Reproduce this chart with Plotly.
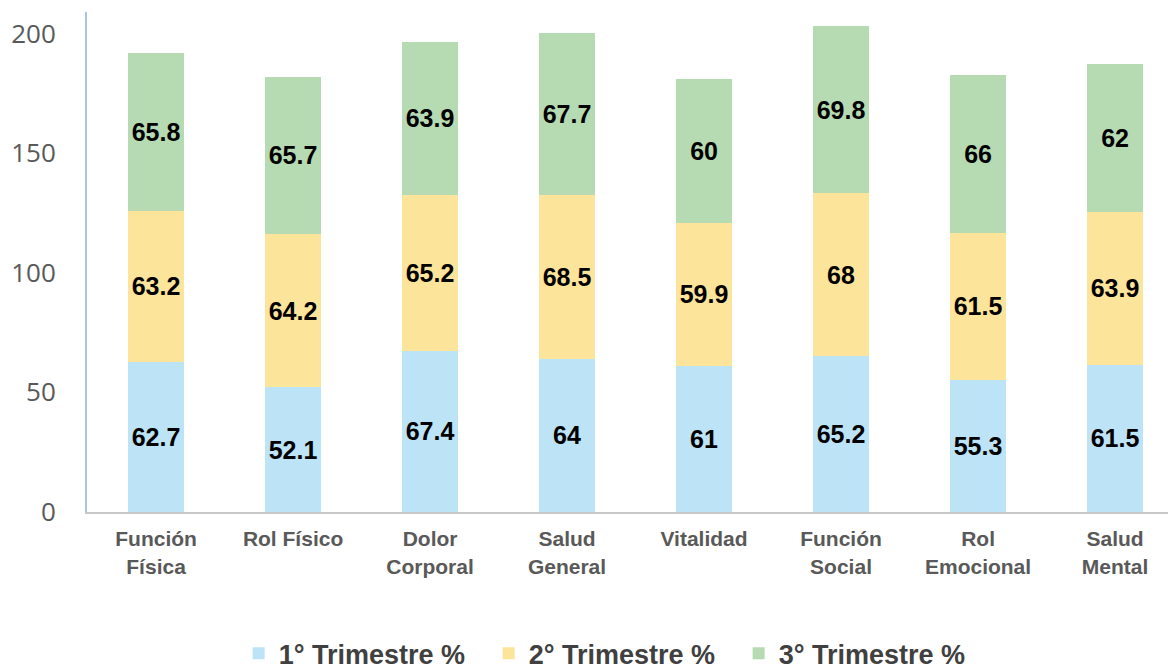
import plotly.graph_objects as go

categories = ["Función<br>Física", "Rol Físico", "Dolor<br>Corporal", "Salud<br>General",
              "Vitalidad", "Función<br>Social", "Rol<br>Emocional", "Salud<br>Mental"]
t1 = [62.7, 52.1, 67.4, 64, 61, 65.2, 55.3, 61.5]
t2 = [63.2, 64.2, 65.2, 68.5, 59.9, 68, 61.5, 63.9]
t3 = [65.8, 65.7, 63.9, 67.7, 60, 69.8, 66, 62]
series_names = ["1° Trimestre %", "2° Trimestre %", "3° Trimestre %"]
colors = ["#BDE3F6", "#FDE49B", "#B6DBB2"]

fig = go.Figure()
for name, vals, col in zip(series_names, [t1, t2, t3], colors):
    fig.add_trace(go.Bar(
        x=list(range(len(categories))), y=vals, name=name,
        marker=dict(color=col, line=dict(width=0)),
        width=0.41,
        text=vals, texttemplate="%{y}", textposition="inside",
        insidetextanchor="middle", textangle=0, constraintext="none",
        textfont=dict(family="Liberation Sans, Arial, sans-serif", size=25,
                      color="#000000", weight="bold"),
    ))

fig.update_layout(
    barmode="stack",
    width=1176, height=668,
    margin=dict(l=79, r=8, t=4, b=164, autoexpand=False),
    paper_bgcolor="white", plot_bgcolor="white",
    showlegend=True,
    legend=dict(orientation="h", xref="container", yref="container",
                x=0.515, xanchor="center", y=0.07, yanchor="top",
                font=dict(family="Liberation Sans, Arial, sans-serif", size=27,
                          color="#404040", weight="bold"),
                traceorder="normal", itemwidth=30, entrywidth=205,
                bgcolor="rgba(0,0,0,0)"),
)
fig.update_xaxes(
    range=[-0.504, 7.445], automargin=False,
    tickmode="array", tickvals=list(range(len(categories))), ticktext=categories,
    tickfont=dict(family="Liberation Sans, Arial, sans-serif", size=21,
                  color="#595959", weight="bold"),
    showline=True, linecolor="#C8C8C8", linewidth=2,
    showgrid=False, zeroline=False, ticks="", ticklabelstandoff=7,
)
fig.update_yaxes(
    range=[0, 209], automargin=False,
    tickvals=[0, 50, 100, 150, 200],
    tickfont=dict(family="Open Sans, sans-serif", size=26, color="#595959"),
    showline=True, linecolor="#A9C3E8", linewidth=2,
    showgrid=False, zeroline=False, ticks="", ticklabelstandoff=24,
)

fig.write_html("out.html")
